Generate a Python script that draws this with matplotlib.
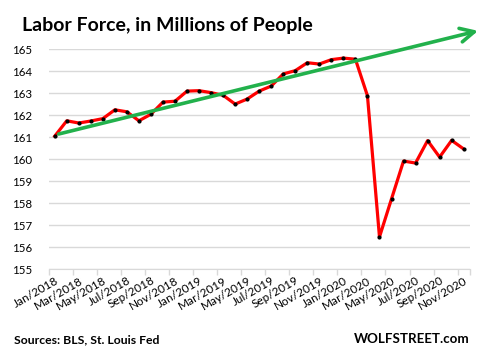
import matplotlib
matplotlib.use("Agg")
import matplotlib.pyplot as plt

# ── data ────────────────────────────────────────────────────────────────
months = ["Jan/2018", "Feb/2018", "Mar/2018", "Apr/2018", "May/2018", "Jun/2018",
          "Jul/2018", "Aug/2018", "Sep/2018", "Oct/2018", "Nov/2018", "Dec/2018",
          "Jan/2019", "Feb/2019", "Mar/2019", "Apr/2019", "May/2019", "Jun/2019",
          "Jul/2019", "Aug/2019", "Sep/2019", "Oct/2019", "Nov/2019", "Dec/2019",
          "Jan/2020", "Feb/2020", "Mar/2020", "Apr/2020", "May/2020", "Jun/2020",
          "Jul/2020", "Aug/2020", "Sep/2020", "Oct/2020", "Nov/2020"]
labor_force = [161.05, 161.75, 161.65, 161.74, 161.85, 162.25,
               162.16, 161.75, 162.05, 162.60, 162.64, 163.10,
               163.12, 163.03, 162.91, 162.51, 162.74, 163.10,
               163.33, 163.88, 164.03, 164.39, 164.33, 164.53,
               164.60, 164.55, 162.89, 156.47, 158.20, 159.92,
               159.83, 160.85, 160.10, 160.86, 160.47]
# hand-drawn trend arrow (start / end, in month index and millions)
trend_x = [0.33, 35.2]
trend_y = [161.15, 165.84]
y_ticks = list(range(155, 166))

RED = "#FF0000"
GREEN = "#22B14C"
GRID = "#D9D9D9"
FONT = "Lato"

fig = plt.figure(figsize=(4.78, 3.56), dpi=100, facecolor="white")
ax = fig.add_axes([0.1019, 0.2435, 0.8807, 0.618])

x = list(range(len(months)))
ax.plot(x, labor_force, color=RED, lw=2.3, zorder=3, solid_joinstyle="round")
ax.scatter(x, labor_force, s=4, color="black", zorder=4)

ax.annotate("", xy=(trend_x[1], trend_y[1]), xytext=(trend_x[0], trend_y[0]),
            xycoords="data", annotation_clip=False,
            arrowprops=dict(arrowstyle="->,head_length=1.0,head_width=0.5",
                            color=GREEN, lw=2.6, shrinkA=0, shrinkB=0),
            zorder=5)

ax.set_xlim(-0.5, len(months) - 0.5)
ax.set_ylim(155, 165)
ax.set_yticks(y_ticks)
ax.set_yticklabels([str(v) for v in y_ticks], fontsize=8.3, family=FONT)
ax.yaxis.grid(True, color=GRID, lw=1)
ax.set_axisbelow(True)
ax.tick_params(axis="y", length=0, pad=12)

# ticks at category boundaries, labels at every other month
ax.set_xticks([i - 0.5 for i in range(0, len(months), 2)] + [len(months) - 0.5])
ax.set_xticklabels([])
ax.tick_params(axis="x", length=4, color=GRID, width=1)
ax.set_xticks(x[::2], minor=True)
ax.set_xticklabels(months[::2], minor=True, rotation=30, ha="right",
                   rotation_mode="anchor", fontsize=8.5, family=FONT)
ax.tick_params(axis="x", which="minor", length=0, pad=4)

for s in ["left", "right", "top"]:
    ax.spines[s].set_visible(False)
ax.spines["bottom"].set_color(GRID)

fig.text(22 / 478, 1 - 30.5 / 356, "Labor Force, in Millions of People",
         fontsize=14, fontweight="bold", family=FONT, va="baseline")
fig.text(14 / 478, 1 - 343 / 356, "Sources: BLS, St. Louis Fed",
         fontsize=8.8, fontweight="bold", family=FONT, va="baseline")
fig.text(470 / 478, 1 - 343 / 356, "WOLFSTREET.com", ha="right",
         fontsize=9.6, fontweight="bold", family=FONT, va="baseline")

fig.savefig("out.png", dpi=100, facecolor="white")
